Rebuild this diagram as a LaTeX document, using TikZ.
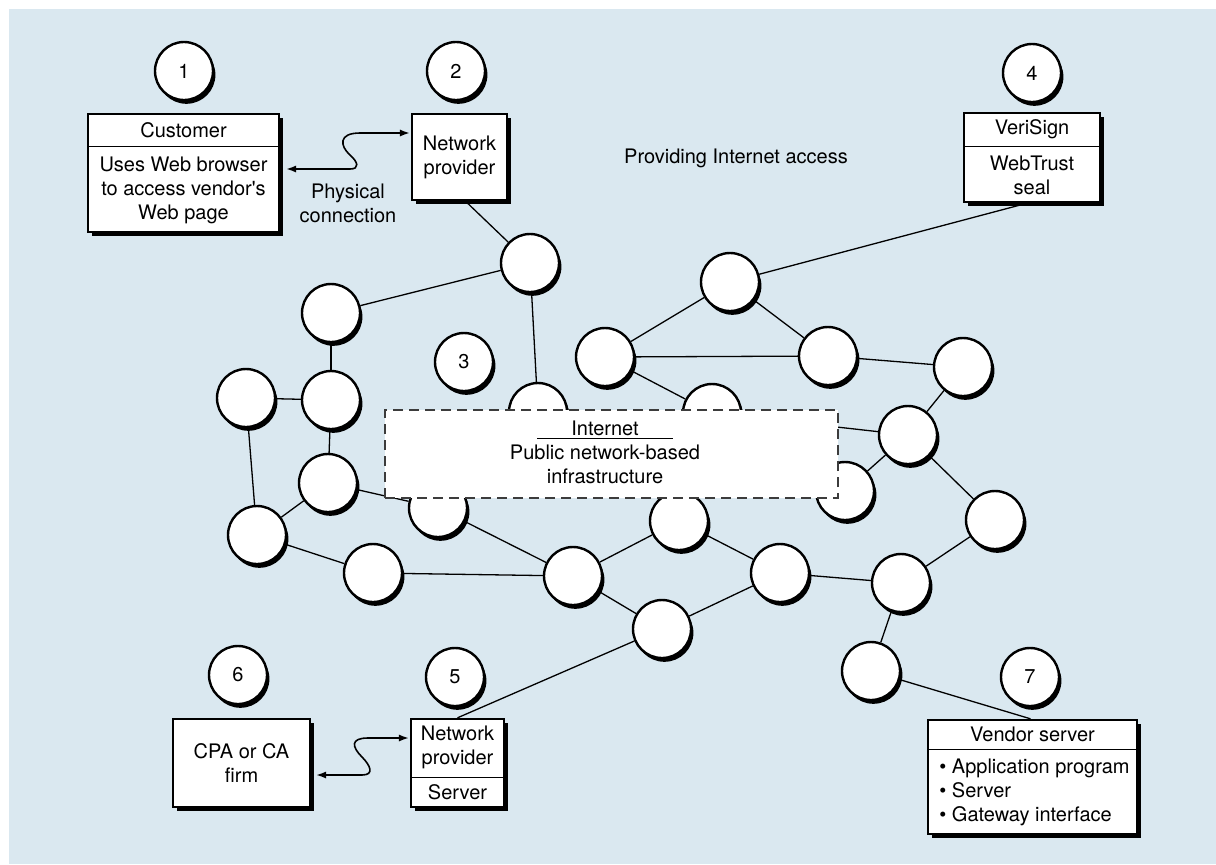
\documentclass[tikz,border=0pt]{standalone}
\usepackage{fontspec}
\setmainfont{TeX Gyre Heros}
\usetikzlibrary{shadows,arrows.meta,calc}
\definecolor{panel}{RGB}{218,232,240}
\definecolor{dashgray}{RGB}{60,60,60}
\pgfdeclarelayer{panelbg}
\pgfdeclarelayer{links}
\pgfsetlayers{panelbg,links,main}

\begin{document}
\begin{tikzpicture}[x=0.5pt,y=-0.5pt,
  every node/.style={font=\fontsize{10pt}{12pt}\selectfont},
  hub/.style={circle, draw, line width=1.2pt, fill=white, minimum size=29pt, inner sep=0pt,
    drop shadow={shadow xshift=1.2pt, shadow yshift=-1.9pt, fill=black, opacity=1}},
  box/.style={rectangle, draw, line width=1.2pt, fill=white, inner sep=0pt, align=center,
    drop shadow={shadow xshift=2.2pt, shadow yshift=-2.2pt, fill=black, opacity=1}},
  head/.style={rectangle, draw, line width=0.7pt, inner sep=0pt},
  txt/.style={align=center, inner sep=0pt},
  link/.style={line width=0.65pt},
  twoway/.style={line width=0.8pt, {Latex[length=5pt,width=3.6pt]}-{Latex[length=5pt,width=3.6pt]}}
]

% light blue panel behind everything
\begin{pgfonlayer}{panelbg}
  \fill[panel] (9,9) rectangle (1216,864);
\end{pgfonlayer}
\useasboundingbox (0,0) rectangle (1216,864);

% numbered markers
\node[hub] (m1) at (184,71)  {1};
\node[hub] (m2) at (456,71)  {2};
\node[hub] (m3) at (464,362) {3};
\node[hub] (m4) at (1032,73) {4};
\node[hub] (m5) at (455,677) {5};
\node[hub] (m6) at (238,675) {6};
\node[hub] (m7) at (1030,677) {7};

% network routers
\node[hub] (A) at (530,263) {};
\node[hub] (B) at (331,313) {};
\node[hub] (C) at (246,398) {};
\node[hub] (D) at (331,400) {};
\node[hub] (E) at (328,483) {};
\node[hub] (F) at (257,535) {};
\node[hub] (G) at (373,573) {};
\node[hub] (H) at (438,508) {};
\node[hub] (I) at (538,412) {};
\node[hub] (J) at (573,576) {};
\node[hub] (K) at (730,282) {};
\node[hub] (L) at (605,357) {};
\node[hub] (M) at (828,356) {};
\node[hub] (N) at (963,367) {};
\node[hub] (O) at (712,413) {};
\node[hub] (P) at (908,435) {};
\node[hub] (Q) at (845,491) {};
\node[hub] (R) at (995,520) {};
\node[hub] (S) at (679,521) {};
\node[hub] (T) at (780,573) {};
\node[hub] (U) at (901,583) {};
\node[hub] (V) at (662,629) {};
\node[hub] (W) at (871,671) {};

% customer
\node[box, minimum width=95.5pt, minimum height=59pt] (cust) at (183.5,173) {};
\node[head, anchor=north, minimum width=95.5pt, minimum height=16.5pt] (custT) at (cust.north) {Customer};
\node[txt] at ($(custT.south)!0.5!(cust.south)$) {Uses Web browser\\to access vendor\textquotesingle s\\Web page};

% network provider (top)
\node[box, minimum width=47.5pt, minimum height=43pt] (np2) at (459.5,157) {Network\\provider};

% VeriSign
\node[box, minimum width=68pt, minimum height=44.5pt] (veri) at (1032,157.5) {};
\node[head, anchor=north, minimum width=68pt, minimum height=17pt] (veriT) at (veri.north) {VeriSign};
\node[txt] at ($(veriT.south)!0.5!(veri.south)$) {WebTrust\\seal};

% CPA firm
\node[box, minimum width=68.5pt, minimum height=44pt] (cpa) at (241.5,763) {CPA or CA\\firm};

% network provider (bottom)
\node[box, minimum width=46.5pt, minimum height=44pt] (np5) at (457.5,763) {};
\node[head, anchor=south, minimum width=46.5pt, minimum height=15pt] (np5S) at (np5.south) {Server};
\node[txt] at ($(np5.north)!0.5!(np5S.north)$) {Network\\provider};

% vendor server
\node[box, minimum width=104.5pt, minimum height=57pt] (vendor) at (1032.5,777) {};
\node[head, anchor=north, minimum width=104.5pt, minimum height=15pt] (vendorT) at (vendor.north) {Vendor server};
\node[txt, align=left, anchor=west] at (939,792) {\textbullet\ Application program\\\textbullet\ Server\\\textbullet\ Gateway interface};

% Internet cloud label
\node[draw=dashgray, dash pattern=on 5pt off 3pt, line width=0.7pt, fill=white,
      minimum width=226.5pt, minimum height=44pt, inner sep=0pt] (inet) at (611.5,454) {};
\node[txt] at (605,452) {\underline{\makebox[68pt]{Internet}}\\Public network-based\\infrastructure};

% free labels
\node[txt] (phys) at (348,203.5) {Physical\\connection};
\node[txt] (access) at (736,158) {Providing Internet access};

% physical connections
\draw[twoway] ([shift={(3pt,2pt)}]cust.east) -- (350,169)
  .. controls (360,169) and (358,162) .. (350,155)
  .. controls (340,146) and (338,133) .. (360,133) -- ([shift={(-0.5pt,12pt)}]np2.west);
\draw[twoway] ([shift={(2.5pt,-6pt)}]cpa.east) -- (362,775)
  .. controls (375,775) and (370,765) .. (362,757)
  .. controls (352,747) and (350,738) .. (368,738) -- ([shift={(-0.5pt,12.5pt)}]np5.west);

% network links
\begin{pgfonlayer}{links}
  \draw[link] ([xshift=3pt]np2.south) -- (A);
  \draw[link] (A) -- (B);
  \draw[link] (A) -- (I);
  \draw[link] (B) -- (D);
  \draw[link] (C) -- (D);
  \draw[link] (D) -- (E);
  \draw[link] (C) -- (F);
  \draw[link] (F) -- (E);
  \draw[link] (F) -- (G);
  \draw[link] (E) -- (H);
  \draw[link] (G) -- (J);
  \draw[link] (H) -- (J);
  \draw[link] ([xshift=-2.5pt]veri.south) -- (K);
  \draw[link] (K) -- (L);
  \draw[link] (K) -- (M);
  \draw[link] (L) -- (M);
  \draw[link] (L) -- (O);
  \draw[link] (M) -- (N);
  \draw[link] (N) -- (P);
  \draw[link] (O) -- (P);
  \draw[link] (P) -- (Q);
  \draw[link] (P) -- (R);
  \draw[link] (J) -- (S);
  \draw[link] (S) -- (T);
  \draw[link] (J) -- (V);
  \draw[link] (V) -- (T);
  \draw[link] (T) -- (U);
  \draw[link] (U) -- (R);
  \draw[link] (U) -- (W);
  \draw[link] (W) -- ([xshift=-1pt]vendor.north);
  \draw[link] (V) -- (np5.north);
\end{pgfonlayer}
\end{tikzpicture}
\end{document}
